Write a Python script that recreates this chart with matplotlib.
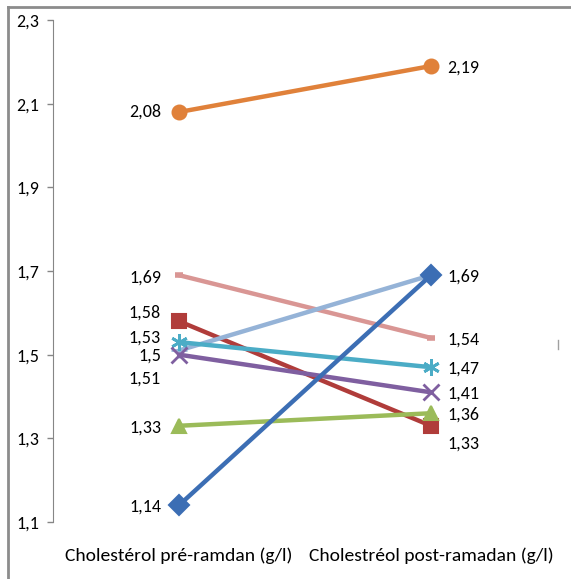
import matplotlib
matplotlib.use("Agg")
import matplotlib.pyplot as plt
from matplotlib.lines import Line2D

plt.rcParams["font.family"] = ["Carlito", "DejaVu Sans"]

categories = ["Cholestérol pré-ramdan (g/l)", "Cholestréol post-ramadan (g/l)"]

# one pair of values per subject (pre, post)
pre = [2.08, 1.69, 1.58, 1.51, 1.53, 1.50, 1.33, 1.14]
post = [2.19, 1.54, 1.33, 1.69, 1.47, 1.41, 1.36, 1.69]
colors = ["#E0813A", "#D99694", "#B03C3A", "#95B3D7", "#4BACC6", "#7F5FA0", "#9BBB59", "#3C6EB4"]
markers = ["o", "_", "s", "+", (6, 2, 0), "x", "^", "D"]

# vertical nudges of the value labels (points) so they don't collide
pre_dy = [0, -2, 6.5, -20, 3.5, -1, -1, -1]
post_dy = [-1, -1, -13, 0, -1, -1, -1, -1]
show_post = [True, True, True, False, True, True, True, True]  # 1,69 printed once


def fmt(v):
    return f"{v:g}".replace(".", ",")


fig = plt.figure(figsize=(5.71, 5.79), dpi=100)
ax = fig.add_axes([53 / 571, 57 / 579, 504 / 571, 502 / 579])

x = [0, 1]
for i in range(len(pre)):
    m = markers[i]
    ms, mew = 10, 1.5
    if m in ("+", "x") or isinstance(m, tuple):
        ms, mew = 12, 2
    if m == "_":
        ms, mew = 6, 4
    ax.plot(x, [pre[i], post[i]], color=colors[i], lw=3.2, marker=m,
            markersize=ms, markeredgewidth=mew, markeredgecolor=colors[i],
            solid_capstyle="round", zorder=3)

    ax.annotate(fmt(pre[i]), (0, pre[i]), xytext=(-13, pre_dy[i]),
                textcoords="offset points", ha="right", va="center", fontsize=13)
    if show_post[i]:
        ax.annotate(fmt(post[i]), (1, post[i]), xytext=(11.5, post_dy[i]),
                    textcoords="offset points", ha="left", va="center", fontsize=13)

ax.set_xlim(-0.5, 1.5)
ax.set_ylim(1.1, 2.3)
yt = [1.1, 1.3, 1.5, 1.7, 1.9, 2.1, 2.3]
ax.set_yticks(yt)
ax.set_yticklabels([fmt(v) for v in yt], fontsize=13)
ax.set_xticks(x)
ax.set_xticklabels(categories, fontsize=14)
ax.tick_params(axis="x", length=0, pad=18)
ax.tick_params(axis="y", length=4, color="#868686", width=1, pad=6)
for s in ["top", "right", "bottom"]:
    ax.spines[s].set_visible(False)
ax.spines["left"].set_color("#868686")

# outer frame (only top and left edges are visible) and the stray tick at right
fig.add_artist(Line2D([8 / 571, 1], [1 - 7 / 579, 1 - 7 / 579], color="#8C8C8C", lw=2))
fig.add_artist(Line2D([8 / 571, 8 / 571], [0, 1 - 7 / 579], color="#8C8C8C", lw=2))
fig.add_artist(Line2D([558 / 571, 558 / 571], [1 - 340 / 579, 1 - 349 / 579], color="#A0A0A0", lw=1))

fig.savefig("out.png", dpi=100)
